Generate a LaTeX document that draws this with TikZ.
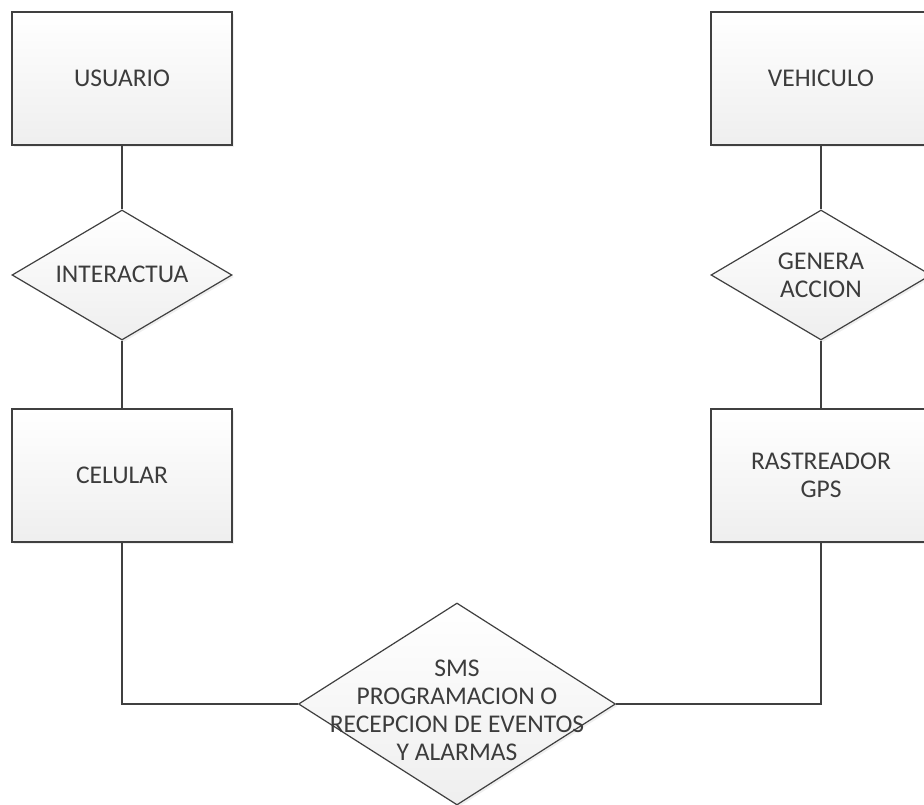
\documentclass[tikz,border=0pt]{standalone}
\usepackage{fontspec}
\setmainfont{Carlito}
\usetikzlibrary{shapes.geometric,shadows}
\definecolor{edge}{HTML}{404040}
\definecolor{txt}{HTML}{3C3C3C}
\newcommand{\dtext}[2][0pt]{\smash{\raisebox{\dimexpr-0.3em-#1\relax}{\makebox[0pt]{\begin{tabular}{@{}c@{}}#2\end{tabular}}}}}
\begin{document}
\begin{tikzpicture}[x=1pt,y=-1pt,
  font=\fontsize{25.5}{28}\selectfont, text=txt,
  shapebase/.style={draw=edge, line width=1.2pt, top color=white, bottom color=gray!13,
    inner sep=0pt, drop shadow={opacity=0.12, shadow xshift=2pt, shadow yshift=-2pt}},
  entity/.style={shapebase, rectangle, minimum width=220pt, minimum height=133pt, align=center},
  relation/.style={shapebase, diamond, minimum width=220pt, minimum height=130pt},
  link/.style={draw=edge, line width=1.2pt}]
\clip (0,0) rectangle (924,805);
\fill[white] (0,0) rectangle (924,805);
\node[entity] (usuario) at (122,78.5) {USUARIO};
\node[entity] (vehiculo) at (821,78.5) {VEHICULO};
\node[relation] (interactua) at (122,275) {\dtext{INTERACTUA}};
\node[relation] (genera) at (821,275) {\dtext[1pt]{GENERA\\ACCION}};
\node[entity] (celular) at (122,475.5) {CELULAR};
\node[entity] (gps) at (821,475.5) {RASTREADOR\\GPS};
\node[relation, minimum width=317pt, minimum height=202pt] (sms) at (457,704)
  {\dtext[7pt]{SMS\\PROGRAMACION O\\RECEPCION DE EVENTOS\\Y ALARMAS}};
\draw[link] (usuario.south) -- (interactua.north);
\draw[link] (interactua.south) -- (celular.north);
\draw[link] (vehiculo.south) -- (genera.north);
\draw[link] (genera.south) -- (gps.north);
\draw[link] (celular.south) |- (sms.west);
\draw[link] (gps.south) |- (sms.east);
\end{tikzpicture}
\end{document}
